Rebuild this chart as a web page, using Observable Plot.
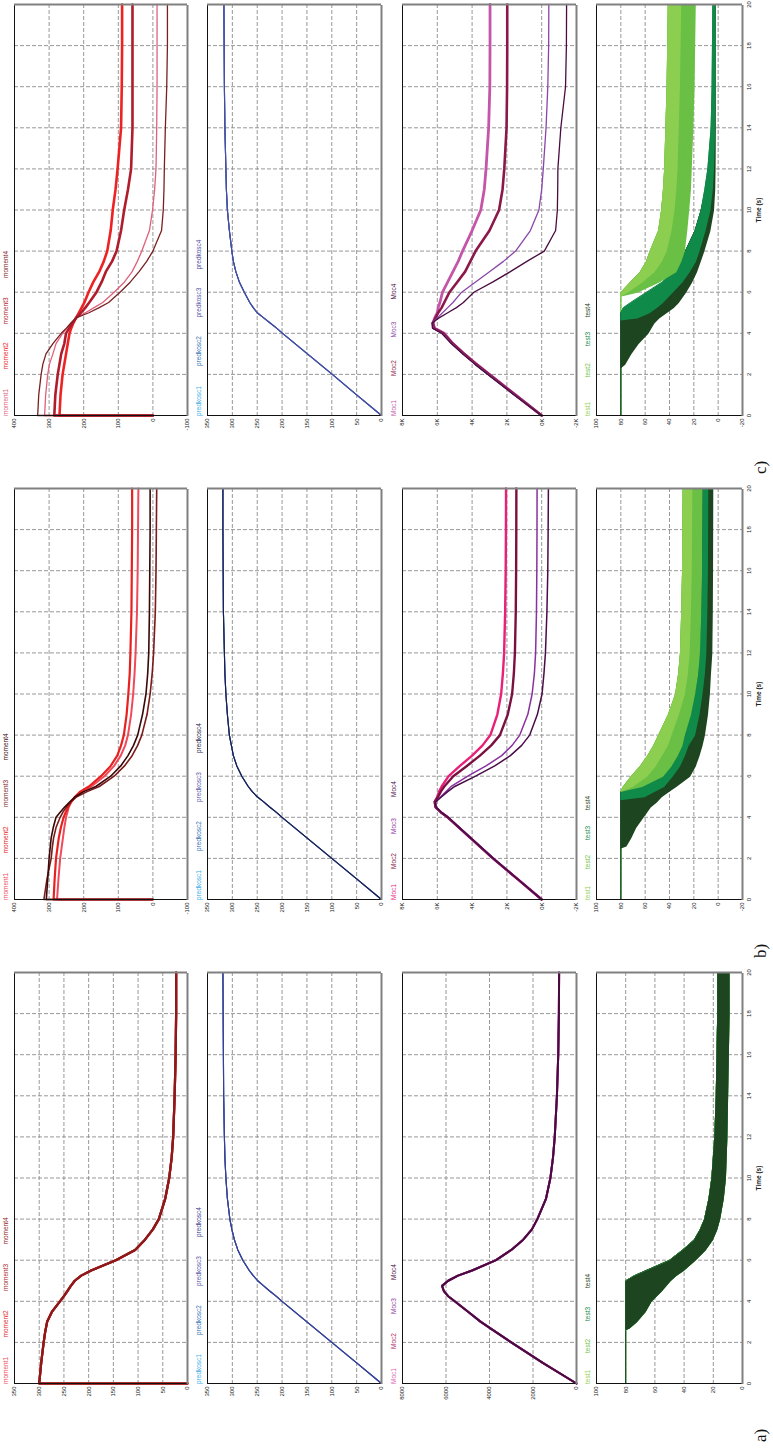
<!DOCTYPE html>
<html><head><meta charset="utf-8">
<script src="https://cdn.jsdelivr.net/npm/d3@7"></script>
<script src="https://cdn.jsdelivr.net/npm/@observablehq/plot@0.6"></script>
<style>
html,body{margin:0;padding:0;background:#fff;width:773px;height:1448px;overflow:hidden;}
#fig{position:absolute;left:0;top:0;width:1448px;height:773px;transform-origin:0 0;transform:translateY(1448px) rotate(-90deg);font-family:"Liberation Sans",Arial,sans-serif;}
.leg{position:absolute;height:8px;line-height:8px;font-size:6.5px;white-space:nowrap;}
.leg span{display:inline-block;}
.lab{position:absolute;font-family:"Liberation Serif","Times New Roman",serif;font-size:17px;line-height:17px;color:#111;}
</style></head><body><div id="fig"></div>
<script>
// ---------- shared time grid (s) ----------
const T = [0,0,1,2,2.5,3,3.5,4,4.25,4.5,4.75,5,5.25,5.5,6,6.5,7,7.5,8,9,10,11,12,14,16,18,20];

// ---------- series names ----------
const momentNames = ["moment1","moment2","moment3","moment4"];
const predkoscNames = ["predkosc1","predkosc2","predkosc3","predkosc4"];
const mocNames = ["Moc1","Moc2","Moc3","Moc4"];
const testNames = ["test1","test2","test3","test4"];
const subLabels = ["a)","b)","c)"];

// ---------- column a ----------
const momentA = [0,300,296,291,288,284,274,258,250,243,236,228,215,195,145,106,86,70,58,45,37,32,29,26,24,23,23];
const predkoscA = [0,0,50,100,125,150,175,200,212,225,237,249,258,266,279,289,296,301,305,310,313,315,316,317.5,318,318.5,319];
const mocA = [0,0,1550,3000,3700,4400,5000,5600,5900,6100,6180,5900,5450,4800,3700,3000,2450,2050,1800,1400,1200,1080,1000,900,840,810,800];
const testA_t  = [0,0,2.6,2.7,3,3.5,4,4.5,5,5.25,5.5,6,6.5,7,7.5,8,9,10,11,12,14,16,18,20];
const testA_hi = [40,80,80,80,80,80,80,80,80,74,66,50,41,33,29,26,23,21,20,19,18,17.5,17,17];
const testA_lo = [40,80,80,77,72,66,62,55,49,45,40,32,25,20,17,15,12.5,11,10.5,10,9.5,9,8.5,8.5];

// ---------- column b ----------
const momentB1 = [0,277,273,268,264,260,256,251,247,243,236,222,205,178,140,112,93,80,72,63,57,53,50,46,44,43,42];
const momentB2 = [0,287,284,280,276,272,266,258,252,245,236,225,210,185,150,122,103,92,84,76,71,67,65,62,61,60,60];
const momentB3 = [0,315,306,294,291,287,280,268,260,250,238,220,190,155,112,82,60,44,32,17,8,2,-2,-7,-9,-10,-11];
const momentB4 = [0,308,304,300,297,294,288,280,268,255,240,225,200,165,122,93,72,56,44,30,20,15,12,10,9,8,8];
const predkoscB = [0,0,50,100,125,150,175,200,212,225,237,250,260,268,281,291,298,302,306,310,313,315,316,318,318.5,319,319];
const mocB1 = [0,0,1400,2800,3450,4100,4750,5400,5800,6100,6150,6000,5900,5750,5350,4700,4000,3400,2950,2550,2330,2230,2160,2100,2070,2055,2050];
const mocB2 = [0,0,1400,2800,3450,4100,4750,5400,5800,6100,6150,5950,5800,5600,5080,4300,3550,2900,2400,1950,1700,1600,1540,1490,1470,1460,1456];
const mocB3 = [0,0,1380,2780,3430,4080,4730,5380,5780,6080,6100,5800,5500,5200,4250,3200,2300,1700,1260,800,550,420,350,300,280,270,266];
const mocB4 = [0,0,1380,2780,3430,4080,4730,5380,5780,6080,6100,5750,5400,5000,3800,2700,1800,1150,690,250,-20,-130,-215,-300,-350,-370,-385];
const testB4_t  = [0,0,2.5,2.6,3,3.5,4,4.5,4.75,5,5.25,5.5,6,6.5,7,7.5,8,9,10,11,12,14,16,20];
const testB4_hi = [40,80,80,80,80,80,80,80,80,80,80,72,50,40,34,30,27,23,19,16,15,13.5,13,12.5];
const testB4_lo = [40,80,80,75,71,67,61,55,50,46,40,34,22.7,18,15,12.5,10.5,8,6.4,5.5,4.4,4,3.8,3.6];
const testB3_t  = [0,0,4.85,5,5.25,5.5,6,6.5,7,7.5,8,9,10,11,12,14,16,20];
const testB3_hi = [40,80,80,80,80,70,50,40,34,30,27,23,19,16,15,13.5,13,12.5];
const testB3_lo = [40,80,80,60,52,44,37,31,27,24,18.6,15,12.5,10.5,9.3,8.5,8,7.7];
const testB2_t  = [0,0,5.25,5.5,6,6.5,7,7.5,8,9,10,11,12,14,16,20];
const testB2_hi = [40,80,80,78,71.5,64,58,53,49,41,35,32.5,31,30,29.3,28.8];
const testB2_lo = [40,80,80,62,45,38,33,29,27,22,18.6,16,14.6,13.5,13,12.5];
const testB1_lo = [40,80,80,70,58,51,46,41,38,32,27,24.5,23,22,21.3,20.8];

// ---------- column c ----------
const momentC1 = [0,313,310,304,299,289,280,261,248,235,222,195,170,145,112,82,60,45,32,10,1,-5,-9,-11,-12,-12,-12];
const momentC2 = [0,270,267,261,256,251,246,241,236,230,222,214,206,198,186,172,155,142,132,122,116,108,102,92,90,89,89];
const momentC3 = [0,285,282,275,270,265,256,251,242,232,222,208,195,184,163,148,136,118,105,92,83,72,63,59,59,59,59];
const momentC4 = [0,333,330,323,318,309,289,265,250,237,222,185,155,128,95,65,40,18,0,-25,-30,-32,-33,-36,-40,-42,-42];
const predkoscC = [0,0,50,99,124,149,174,199,211,224,237,250,258,265,276,286,293,298,301,306,310,312,313,315,316,316.5,317];
const mocC1 = [0,0,1500,3000,3750,4450,5100,5600,6150,6250,6150,6000,5950,5850,5700,5400,5100,4800,4550,4000,3500,3300,3200,3050,2980,2970,2970];
const mocC2 = [0,0,1520,3020,3770,4470,5120,5650,6200,6250,6100,5950,5750,5600,5300,4850,4400,4100,3800,3000,2450,2250,2150,2020,1990,1980,1980];
const mocC3 = [0,0,1560,3080,3830,4530,5180,5720,6250,6300,6000,5700,5400,5100,4600,3800,3000,2200,1500,650,160,0,-90,-250,-350,-400,-410];
const mocC4 = [0,0,1580,3100,3850,4550,5200,5750,6280,6300,5900,5400,4900,4500,3900,2800,1800,850,-150,-800,-900,-920,-930,-1100,-1370,-1420,-1430];
const testC4_t  = [0,0,2.3,2.5,3,3.5,4,4.5,4.75,5,5.25,5.5,6,6.5,7,7.5,8,9,10,11,12,14,16,20];
const testC4_hi = [40,80,80,80,80,80,80,80,80,80,75,68,55,45,37,32,27,19,14,10,8,5,4,3];
const testC4_lo = [40,80,80,76,71,65,57,52,48,42,36,32,26,21,17,14,11,6,3,2,1.7,1.5,1.5,1.5];
const testC3_t  = [0,0,4.65,4.75,5,5.25,5.5,6,6.5,7,7.5,8,9,10,11,12,14,16,20];
const testC3_hi = [40,80,80,80,80,78,72,59,46,37,31,27,19,14,11,8.5,5.8,5,4.4];
const testC3_lo = [40,80,80,66,56,50,45,37,29,23,18,15,10,6,4,3,2,1.7,1.7];
const testC2_t  = [0,0,5.8,6,6.5,7,7.5,8,9,10,11,12,14,16,20];
const testC2_hi = [40,80,80,80,72,64,59,56,49,46.5,45,44,43,42,41];
const testC2_lo = [40,80,80,66,48,34,30,27,25,23.4,22,21.3,20,19,18];
const testC1_lo = [40,80,80,74,62,52,46,42,38,35.5,34,33,32,31,30];

// ---------- axis ticks ----------
const ticksMoment350 = [0,50,100,150,200,250,300,350];
const ticksMoment400 = [-100,0,100,200,300,400];
const ticksPredkosc = [0,50,100,150,200,250,300,350];
const ticksMoc8000 = [0,2000,4000,6000,8000];
const ticksMocK = [-2000,0,2000,4000,6000,8000];
const ticksTest100 = [0,20,40,60,80,100];
const ticksTest120 = [-20,0,20,40,60,80,100];
const ticksTime = [0,2,4,6,8,10,12,14,16,18,20];

// ---------- colours ----------
const testColors = ["#8ccf50","#6abf45","#108a48","#1d4520"];
const colA = {moment:["#f04a5a","#e02828","#a82222","#8b1a1a"], predkosc:["#35aee8","#2f6fb5","#5555a8","#3d3d90"], moc:["#e060b0","#b01e5e","#8a3aa0","#4a0a40"]};
const colB = {moment:["#f04a5a","#e82020","#7a1a1a","#3a0808"], predkosc:["#35aee8","#2f6fb5","#5555a8","#1c1c48"], moc:["#e8207a","#7a1040","#8a30a0","#4a0c48"]};
const colC = {moment:["#e0607a","#ee2222","#b01c2c","#7a2020"], predkosc:["#35aee8","#2f6fb5","#5555a8","#4b4b9e"], moc:["#c455a8","#8b1848","#8a45a8","#4a0c40"]};

// ---------- layout (unrotated figure, 1448 x 773) ----------
const fig = document.getElementById("fig");
const COLX = {a: 64, b: 548, c: 1032};
const SPAN = 411;
const PANELS = {moment:{top:14,h:173}, predkosc:{top:207,h:174}, moc:{top:402,h:174}, test:{top:596,h:146}};
const LEGSP = {
  a: {moment:[46.5,46.5,46.5,46.5], predkosc:[49,49,49,49], moc:[35,35,34,34], test:[31,32,33,33]},
  b: {moment:[46.5,46.5,46.5,46.5], predkosc:[49,49,49,49], moc:[31,35,37,37], test:[31,29,30,30]},
  c: {moment:[46.5,45,46.5,46.5], predkosc:[50,48.5,48,48], moc:[40,38.5,38,38], test:[38.7,31.3,28.7,28.7]}
};
const ML = 20, MR = 2, MT = 1;

const rows = (ts, vs) => ts.map((t, i) => ({t, v: vs[i]}));
const intFmt = d => String(d);
const kFmt = d => (d / 1000) + "K";

function lineMarks(list, colors, widths) {
  return list.map((vs, i) => Plot.lineY(rows(T, vs), {x: "t", y: "v", stroke: colors[i], strokeWidth: widths[i]}));
}
function bandMarks(list, colors, order) {
  const lines = list.map((s, i) => Plot.lineY(rows(s.t, s.hi), {x: "t", y: "v", stroke: colors[i], strokeWidth: 1}));
  const areas = order.map(i => {
    const s = list[i];
    return Plot.areaY(s.t.map((t, j) => ({t, lo: s.lo[j], hi: s.hi[j]})), {x: "t", y1: "lo", y2: "hi", fill: colors[i]});
  });
  return [...lines, ...areas];
}

function panel(col, kind, domain, ticks, fmt, dataMarks) {
  const P = PANELS[kind];
  const isTest = kind === "test";
  const MB = isTest ? 26 : 2;
  const [lo, hi] = domain;
  const grid = {stroke: "#8c8c8c", strokeOpacity: 1, strokeDasharray: "4,2", strokeWidth: 0.9};
  const marks = [
    Plot.gridX(ticksTime.filter(d => d > 0 && d < 20), grid),
    Plot.gridY(ticks.filter(d => d > lo && d < hi), grid),
    ...dataMarks,
    Plot.ruleX([0], {stroke: "#111", strokeWidth: 1}),
    Plot.ruleY([hi], {stroke: "#111", strokeWidth: 1}),
    Plot.ruleX([20], {stroke: "#808080", strokeWidth: 2}),
    Plot.ruleY([lo], {stroke: "#808080", strokeWidth: 2}),
    Plot.axisY(ticks, {tickSize: 0, tickPadding: 3, label: null, tickFormat: fmt})
  ];
  if (isTest) {
    marks.push(Plot.axisX(ticksTime, {tickSize: 0, tickPadding: 4, label: null, tickFormat: intFmt}));
    marks.push(Plot.text(["Time (s)"], {frameAnchor: "bottom", dy: 18, fontSize: 6.5, fontWeight: "bold"}));
  }
  const svg = Plot.plot({
    width: ML + SPAN + MR, height: MT + P.h + MB,
    marginLeft: ML, marginRight: MR, marginTop: MT, marginBottom: MB,
    x: {domain: [0, 20], ...(isTest ? {} : {axis: null})},
    y: {domain: [lo, hi]},
    style: {fontFamily: "'Liberation Sans', Arial, sans-serif", fontSize: "6px", color: "#222", background: "transparent", overflow: "visible"},
    marks
  });
  svg.style.position = "absolute";
  svg.style.left = (COLX[col] - ML) + "px";
  svg.style.top = (P.top - MT) + "px";
  fig.appendChild(svg);
}

function legend(col, kind, names, colors) {
  const P = PANELS[kind];
  const div = document.createElement("div");
  div.className = "leg";
  div.style.left = COLX[col] + "px";
  div.style.top = (P.top - 12) + "px";
  names.forEach((n, i) => {
    const s = document.createElement("span");
    s.textContent = n; s.style.color = colors[i]; s.style.width = LEGSP[col][kind][i] + "px";
    div.appendChild(s);
  });
  fig.appendChild(div);
}

// ----- column a -----
panel("a", "moment", [0, 350], ticksMoment350, intFmt, lineMarks([momentA, momentA, momentA, momentA], colA.moment, [2.2,2.2,2.2,2.2]));
panel("a", "predkosc", [0, 350], ticksPredkosc, intFmt, lineMarks([predkoscA, predkoscA, predkoscA, predkoscA], colA.predkosc, [1.1,1.1,1.1,1.1]));
panel("a", "moc", [0, 8000], ticksMoc8000, intFmt, lineMarks([mocA, mocA, mocA, mocA], colA.moc, [2,2,2,2]));
const testAlist = [0,1,2,3].map(() => ({t: testA_t, hi: testA_hi, lo: testA_lo}));
panel("a", "test", [0, 100], ticksTest100, intFmt, bandMarks(testAlist, testColors, [0,1,2,3]));

// ----- column b -----
panel("b", "moment", [-100, 400], ticksMoment400, intFmt, lineMarks([momentB1, momentB2, momentB3, momentB4], colB.moment, [2,2.2,1.6,1.6]));
panel("b", "predkosc", [0, 350], ticksPredkosc, intFmt, lineMarks([predkoscB, predkoscB, predkoscB, predkoscB], colB.predkosc, [1.1,1.1,1.1,1.1]));
panel("b", "moc", [-2000, 8000], ticksMocK, kFmt, lineMarks([mocB1, mocB2, mocB3, mocB4], colB.moc, [2.4,2.4,1.5,1.5]));
const testBlist = [
  {t: testB2_t, hi: testB2_hi, lo: testB1_lo},
  {t: testB2_t, hi: testB2_hi, lo: testB2_lo},
  {t: testB3_t, hi: testB3_hi, lo: testB3_lo},
  {t: testB4_t, hi: testB4_hi, lo: testB4_lo}
];
panel("b", "test", [-20, 100], ticksTest120, intFmt, bandMarks(testBlist, testColors, [3,2,1,0]));

// ----- column c -----
panel("c", "moment", [-100, 400], ticksMoment400, intFmt, lineMarks([momentC1, momentC2, momentC3, momentC4], colC.moment, [1.3,2.6,2.6,1.3]));
panel("c", "predkosc", [0, 350], ticksPredkosc, intFmt, lineMarks([predkoscC, predkoscC, predkoscC, predkoscC], colC.predkosc, [1.1,1.1,1.1,1.1]));
panel("c", "moc", [-2000, 8000], ticksMocK, kFmt, lineMarks([mocC1, mocC2, mocC3, mocC4], colC.moc, [2.8,2.6,1.3,1.3]));
const testClist = [
  {t: testC2_t, hi: testC2_hi, lo: testC1_lo},
  {t: testC2_t, hi: testC2_hi, lo: testC2_lo},
  {t: testC3_t, hi: testC3_hi, lo: testC3_lo},
  {t: testC4_t, hi: testC4_hi, lo: testC4_lo}
];
panel("c", "test", [-20, 100], ticksTest120, intFmt, bandMarks(testClist, testColors, [3,2,1,0]));

// ----- legends -----
[["a", colA], ["b", colB], ["c", colC]].forEach(([c, pal]) => {
  legend(c, "moment", momentNames, pal.moment);
  legend(c, "predkosc", predkoscNames, pal.predkosc);
  legend(c, "moc", mocNames, pal.moc);
  legend(c, "test", testNames, testColors);
});

// ----- sub-figure labels -----
["a","b","c"].forEach((c, i) => {
  const d = document.createElement("div");
  d.className = "lab";
  d.textContent = subLabels[i];
  d.style.left = (COLX[c] - 58) + "px";
  d.style.top = "752px";
  fig.appendChild(d);
});
</script></body></html>
